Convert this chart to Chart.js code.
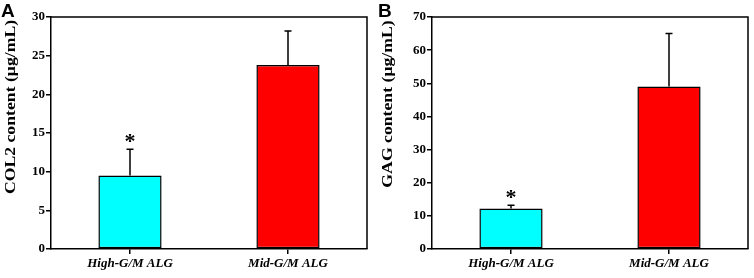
<!DOCTYPE html>
<html>
<head>
<meta charset="utf-8">
<script src="https://cdn.jsdelivr.net/npm/chart.js@4.4.1/dist/chart.umd.min.js"></script>
<style>
  html, body { margin: 0; padding: 0; background: #fff; }
  #wrap { position: relative; width: 754px; height: 278px; }
  .panel { position: absolute; top: 0; width: 377px; height: 278px; }
  .tag { position: absolute; top: 0; left: 1px; font: bold 19px "Liberation Sans", Arial, sans-serif; color: #000; }
</style>
</head>
<body>
<div id="wrap">
  <div class="panel" style="left:0"><canvas id="chA" width="377" height="278"></canvas><div class="tag">A</div></div>
  <div class="panel" style="left:377px"><canvas id="chB" width="377" height="278"></canvas><div class="tag">B</div></div>
</div>
<script>
/* ── data ─────────────────────────────────────────────── */
const groups    = ['High-G/M ALG', 'Mid-G/M ALG'];
const barColors = ['#00ffff', '#ff0000'];

const col2Mean  = [9.5, 23.8];
const col2Err   = [3.4, 4.4];
const col2Star  = [true, false];
const col2Ticks = { max: 30, step: 5 };

const gagMean  = [12.2, 49.0];
const gagErr   = [1.0, 16.0];
const gagStar  = [true, false];
const gagTicks = { max: 70, step: 10 };

const SERIF = '"Liberation Serif", "Times New Roman", serif';

/* ── plugin: error bars, asterisks, frame, y title ────── */
const extras = {
  id: 'extras',
  afterDatasetsDraw(chart, args, opts) {
    const { ctx, chartArea: a, scales: { y } } = chart;
    const meta = chart.getDatasetMeta(0);
    ctx.save();
    ctx.strokeStyle = '#000';
    ctx.fillStyle = '#000';
    ctx.lineWidth = 1.5;
    meta.data.forEach((bar, i) => {
      const top = y.getPixelForValue(opts.mean[i] + opts.err[i]);
      ctx.beginPath();
      ctx.moveTo(bar.x, bar.y);
      ctx.lineTo(bar.x, top);
      ctx.moveTo(bar.x - 3.5, top);
      ctx.lineTo(bar.x + 3.5, top);
      ctx.stroke();
      if (opts.star[i]) {
        ctx.font = 'bold 22px ' + SERIF;
        ctx.textAlign = 'center';
        ctx.textBaseline = 'middle';
        ctx.fillText('*', bar.x, top - 6.5);
      }
    });
    // top + right frame lines
    ctx.beginPath();
    ctx.moveTo(a.left, a.top);
    ctx.lineTo(a.right, a.top);
    ctx.lineTo(a.right, a.bottom);
    ctx.stroke();

    // y axis title (sits above the axis centre in the original)
    ctx.translate(11, opts.titleY);
    ctx.rotate(-Math.PI / 2);
    ctx.scale(1.18, 1);
    ctx.font = 'bold 15px ' + SERIF;
    ctx.textAlign = 'center';
    ctx.textBaseline = 'middle';
    ctx.fillText(opts.title, 0, 0);
    ctx.restore();
  }
};

function drawPanel(id, mean, err, star, tk, title, titleY, yWidth, padRight) {
  return new Chart(document.getElementById(id), {
    type: 'bar',
    data: {
      labels: groups,
      datasets: [{
        data: mean,
        backgroundColor: barColors,
        borderColor: '#000',
        borderWidth: 1.5,
        borderSkipped: false,
        categoryPercentage: 0.8,
        barPercentage: 0.5
      }]
    },
    plugins: [extras],
    options: {
      responsive: false,
      animation: false,
      layout: { padding: { top: 17, right: padRight, left: 0, bottom: 0 } },
      plugins: {
        legend: { display: false },
        tooltip: { enabled: false },
        extras: { mean, err, star, title, titleY }
      },
      scales: {
        x: {
          afterFit: s => { s.height = 29; },
          grid: { offset: false, drawOnChartArea: false, drawTicks: true, tickLength: 5, color: '#000', lineWidth: 1.5 },
          border: { color: '#000', width: 1.5 },
          ticks: { color: '#000', padding: 2, font: { family: SERIF, size: 13, weight: 'bold', style: 'italic' } }
        },
        y: {
          min: 0, max: tk.max,
          afterFit: s => { s.width = yWidth; },
          grid: { drawOnChartArea: false, drawTicks: true, tickLength: 5, color: '#000', lineWidth: 1.5 },
          border: { color: '#000', width: 1.5 },
          ticks: { stepSize: tk.step, color: '#000', padding: 1, font: { family: SERIF, size: 13, weight: 'bold' } }
        }
      }
    }
  });
}

drawPanel('chA', col2Mean, col2Err, col2Star, col2Ticks, 'COL2 content (μg/mL)', 107, 51, 10);
drawPanel('chB', gagMean, gagErr, gagStar, gagTicks, 'GAG content (μg/mL)', 104, 55, 6);
</script>
</body>
</html>
